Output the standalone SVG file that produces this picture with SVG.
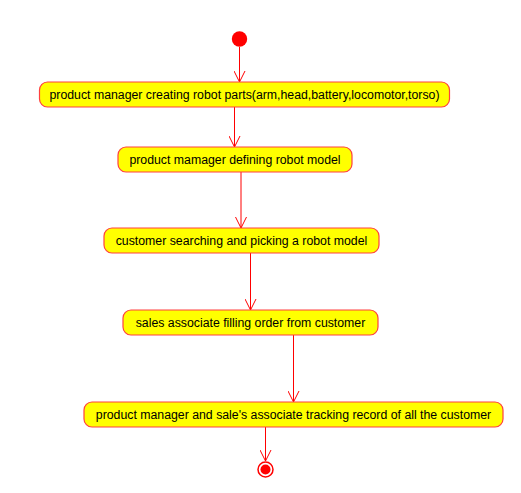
<svg xmlns="http://www.w3.org/2000/svg" width="521" height="493" viewBox="0 0 521 493">
<style>
.node rect{fill:#ffff00;stroke:#ff4040;stroke-width:1.2}
.node text{font-family:"Liberation Sans",Arial,sans-serif;font-size:12.3px;fill:#000;text-anchor:middle}
.edge{stroke:#ff0000;stroke-width:1;fill:none}
</style>
<defs>
<marker id="arr" markerWidth="14" markerHeight="12" refX="12" refY="6" orient="auto" markerUnits="userSpaceOnUse">
<path d="M1,0.5 L12,6 L1,11.5" fill="none" stroke="#ff0000" stroke-width="1"/>
</marker>
</defs>
<rect width="521" height="493" fill="#ffffff"/>
<g id="start"><circle cx="239.5" cy="39" r="7.7" fill="#ff0000"/></g>
<g id="connectors">
<line class="edge" x1="239.5" y1="47" x2="239.5" y2="82" marker-end="url(#arr)"/>
<line class="edge" x1="234.5" y1="107" x2="234.5" y2="147" marker-end="url(#arr)"/>
<line class="edge" x1="241" y1="172" x2="241" y2="228" marker-end="url(#arr)"/>
<line class="edge" x1="250.5" y1="253" x2="250.5" y2="310" marker-end="url(#arr)"/>
<line class="edge" x1="293.5" y1="335" x2="293.5" y2="402" marker-end="url(#arr)"/>
<line class="edge" x1="265.5" y1="427" x2="265.5" y2="461" marker-end="url(#arr)"/>
</g>
<g id="n1" class="node"><rect x="39.5" y="82" width="410" height="25" rx="8"/><text x="244.5" y="99">product manager creating robot parts(arm,head,battery,locomotor,torso)</text></g>
<g id="n2" class="node"><rect x="118" y="147" width="234" height="25" rx="8"/><text x="235" y="164">product mamager defining robot model</text></g>
<g id="n3" class="node"><rect x="104" y="228" width="275" height="25" rx="8"/><text x="241.5" y="245">customer searching and picking a robot model</text></g>
<g id="n4" class="node"><rect x="123" y="310" width="255" height="25" rx="8"/><text x="250.5" y="327">sales associate filling order from customer</text></g>
<g id="n5" class="node"><rect x="84" y="402" width="419" height="25" rx="8"/><text x="293.5" y="419">product manager and sale's associate tracking record of all the customer</text></g>
<g id="end"><circle cx="265.5" cy="469.5" r="7.5" fill="#ffffff" stroke="#ff0000" stroke-width="1.5"/><circle cx="265.5" cy="469.5" r="5" fill="#ff0000"/></g>
</svg>
